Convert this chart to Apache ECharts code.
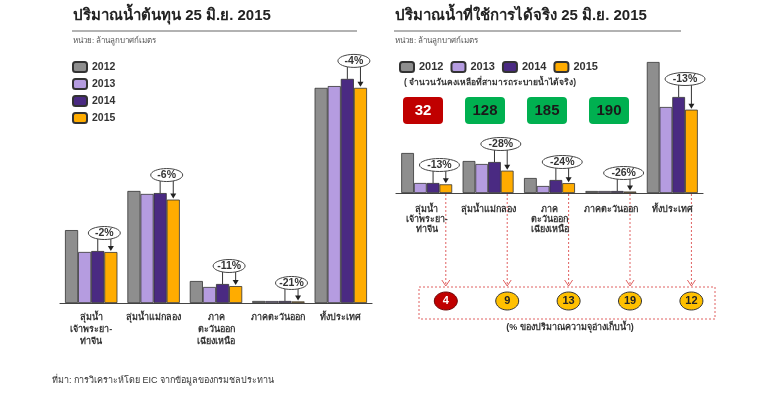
<html>
<head>
    <meta http-equiv="Content-Type" content="text/html; charset=utf-8" />
    <title>ปริมาณน้ำ 25 มิ.ย. 2015</title>
    <style>
        body { margin: 0; background: #fff; }
        #container { width: 768px; height: 399px; }
    </style>
</head>
<body>
    <div id="container"></div>
    <script src="https://cdn.jsdelivr.net/npm/echarts@6/dist/echarts.min.js"></script>
    <script type="text/javascript">
    var categories = ['ลุ่มน้ำ\nเจ้าพระยา-\nท่าจีน', 'ลุ่มน้ำแม่กลอง', 'ภาค\nตะวันออก\nเฉียงเหนือ', 'ภาคตะวันออก', 'ทั้งประเทศ'];
    var years = ['2012', '2013', '2014', '2015'];

    // ปริมาณน้ำต้นทุน (ล้าน ลบ.ม.)
    var stock2012 = [12200, 18750, 3680, 340, 36000];
    var stock2013 = [8540, 18250, 2680, 330, 36300];
    var stock2014 = [8700, 18400, 3180, 340, 37500];
    var stock2015 = [8530, 17300, 2830, 270, 36000];
    var stockChange = ['-2%', '-6%', '-11%', '-21%', '-4%'];

    // ปริมาณน้ำที่ใช้การได้จริง (ล้าน ลบ.ม.)
    var usable2012 = [6000, 4800, 2250, 300, 19650];
    var usable2013 = [1500, 4350, 1050, 300, 12900];
    var usable2014 = [1500, 4650, 1950, 300, 14400];
    var usable2015 = [1300, 3350, 1480, 220, 12500];
    var usableChange = ['-13%', '-28%', '-24%', '-26%', '-13%'];

    var daysLeft = [32, 128, 185, 190];
    var capacityPct = [4, 9, 13, 19, 12];

    var colors = ['#8e8e8e', '#b59ce0', '#4a2a82', '#ffac00'];
    var font = '"Liberation Sans", Tahoma, sans-serif';

    var stock = [stock2012, stock2013, stock2014, stock2015];
    var usable = [usable2012, usable2013, usable2014, usable2015];

    var myChart = echarts.init(document.getElementById('container'));

    var series = [];
    years.forEach(function(y, k) {
        series.push({
            type: 'bar', name: y, xAxisIndex: 0, yAxisIndex: 0,
            data: stock[k], barGap: '0%', barCategoryGap: '16%',
            itemStyle: { color: colors[k], borderColor: '#333', borderWidth: 0.8 },
            animation: false
        });
    });
    years.forEach(function(y, k) {
        series.push({
            type: 'bar', name: y, xAxisIndex: 1, yAxisIndex: 1,
            data: usable[k], barGap: '0%', barCategoryGap: '17%',
            itemStyle: { color: colors[k], borderColor: '#333', borderWidth: 0.8 },
            animation: false
        });
    });

    var catAxis = function(idx, margin, lh) {
        return {
            type: 'category', gridIndex: idx, data: categories,
            axisLine: { lineStyle: { color: '#444', width: 1.2 } },
            axisTick: { show: false },
            axisLabel: { interval: 0, margin: margin, fontSize: 9, fontWeight: 'bold', color: '#333', lineHeight: lh, fontFamily: font }
        };
    };

    myChart.setOption({
        animation: false,
        textStyle: { fontFamily: font },
        grid: [
            { left: 60, right: 396, top: 52, bottom: 96 },
            { left: 396, right: 65, top: 53, bottom: 206 }
        ],
        xAxis: [catAxis(0, 9, 12), catAxis(1, 12, 10)],
        yAxis: [
            { type: 'value', gridIndex: 0, min: 0, max: 42000, show: false },
            { type: 'value', gridIndex: 1, min: 0, max: 21000, show: false }
        ],
        legend: [
            {
                orient: 'vertical', left: 72, top: 61, padding: 0, itemWidth: 14, itemHeight: 10, itemGap: 5,
                data: years, selectedMode: false,
                textStyle: { fontSize: 10.5, fontWeight: 'bold', color: '#333', fontFamily: font }
            },
            {
                orient: 'horizontal', left: 399, top: 61, padding: 0, itemWidth: 14, itemHeight: 10, itemGap: 7,
                data: years, selectedMode: false,
                textStyle: { fontSize: 11, fontWeight: 'bold', color: '#333', fontFamily: font }
            }
        ],
        series: series
    });

    // วาดกรอบคำอธิบายจากตำแหน่งของแท่งจริง
    function barPos(axisIdx, cat, k, value, gapRatio) {
        var c0 = myChart.convertToPixel({ xAxisIndex: axisIdx }, 0);
        var c1 = myChart.convertToPixel({ xAxisIndex: axisIdx }, 1);
        var band = c1 - c0;
        var bw = band * (1 - gapRatio) / 4;
        var cx = myChart.convertToPixel({ xAxisIndex: axisIdx }, cat) + (k - 1.5) * bw;
        var top = myChart.convertToPixel({ yAxisIndex: axisIdx }, value);
        return { x: cx, y: top };
    }

    var graphics = [];

    function callout(axisIdx, cat, data, text, gapRatio, rx) {
        var p14 = barPos(axisIdx, cat, 2, data[2][cat], gapRatio);
        var p15 = barPos(axisIdx, cat, 3, data[3][cat], gapRatio);
        var cy = Math.min(p14.y, p15.y) - 18;
        var ex = (p14.x + p15.x) / 2;
        graphics.push({ type: 'line', shape: { x1: p14.x, y1: cy + 5, x2: p14.x, y2: p14.y }, style: { stroke: '#333', lineWidth: 1 } });
        graphics.push({ type: 'line', shape: { x1: p15.x, y1: cy + 5, x2: p15.x, y2: p15.y - 5 }, style: { stroke: '#333', lineWidth: 1 } });
        graphics.push({ type: 'polygon', shape: { points: [[p15.x - 3, p15.y - 6], [p15.x + 3, p15.y - 6], [p15.x, p15.y - 1]] }, style: { fill: '#222' } });
        graphics.push({ type: 'ellipse', shape: { cx: ex, cy: cy, rx: rx, ry: 6.5 }, style: { fill: '#fff', stroke: '#444', lineWidth: 1 }, z: 10 });
        graphics.push({ type: 'text', x: ex, y: cy, z: 11, style: { text: text, fontSize: 10.5, fontWeight: 'bold', fill: '#333', align: 'center', verticalAlign: 'middle', fontFamily: font } });
    }

    for (var i = 0; i < categories.length; i++) {
        callout(0, i, stock, stockChange[i], 0.16, 16);
        callout(1, i, usable, usableChange[i], 0.17, 20);
    }

    // หัวเรื่อง
    graphics.push({ type: 'text', left: 73, top: 8, style: { text: 'ปริมาณน้ำต้นทุน 25 มิ.ย. 2015', fontSize: 15, fontWeight: 'bold', fill: '#222', fontFamily: font } });
    graphics.push({ type: 'line', shape: { x1: 72, y1: 31, x2: 357, y2: 31 }, style: { stroke: '#999', lineWidth: 1.5 } });
    graphics.push({ type: 'text', left: 73, top: 37, style: { text: 'หน่วย: ล้านลูกบาศก์เมตร', fontSize: 8, fill: '#555', fontFamily: font } });

    graphics.push({ type: 'text', left: 395, top: 8, style: { text: 'ปริมาณน้ำที่ใช้การได้จริง 25 มิ.ย. 2015', fontSize: 15, fontWeight: 'bold', fill: '#222', fontFamily: font } });
    graphics.push({ type: 'line', shape: { x1: 394, y1: 31, x2: 681, y2: 31 }, style: { stroke: '#999', lineWidth: 1.5 } });
    graphics.push({ type: 'text', left: 395, top: 37, style: { text: 'หน่วย: ล้านลูกบาศก์เมตร', fontSize: 8, fill: '#555', fontFamily: font } });

    graphics.push({ type: 'text', left: 404, top: 78, style: { text: '( จำนวนวันคงเหลือที่สามารถระบายน้ำได้จริง)', fontSize: 8.5, fontWeight: 'bold', fill: '#333', fontFamily: font } });

    // จำนวนวันคงเหลือ
    daysLeft.forEach(function(d, k) {
        var bx = 403 + k * 62;
        var red = k === 0;
        graphics.push({ type: 'rect', shape: { x: bx, y: 97, width: 40, height: 27, r: 4 }, style: { fill: red ? '#c00000' : '#00b050' } });
        graphics.push({ type: 'text', x: bx + 20, y: 111, style: { text: String(d), fontSize: 15, fontWeight: 'bold', fill: red ? '#fff' : '#1a1a1a', align: 'center', verticalAlign: 'middle', fontFamily: font } });
    });

    // ลูกศรเส้นประไปยัง % ความจุ
    var boxTop = 287;
    graphics.push({ type: 'rect', shape: { x: 419, y: boxTop, width: 296, height: 32 }, style: { fill: 'none', stroke: '#e06060', lineWidth: 1, lineDash: [2, 2] } });
    capacityPct.forEach(function(v, c) {
        var p = barPos(1, c, 3, 0, 0.17);
        graphics.push({ type: 'line', shape: { x1: p.x, y1: p.y + 1, x2: p.x, y2: boxTop - 1 }, style: { stroke: '#e06060', lineWidth: 1, lineDash: [2, 2] } });
        graphics.push({ type: 'polyline', shape: { points: [[p.x - 4, boxTop - 7], [p.x, boxTop - 1], [p.x + 4, boxTop - 7]] }, style: { stroke: '#e06060', lineWidth: 1, fill: 'none' } });
        var red = c === 0;
        graphics.push({ type: 'ellipse', shape: { cx: p.x, cy: boxTop + 14, rx: 11.5, ry: 9 }, style: { fill: red ? '#c00000' : '#ffc000', stroke: red ? '#6b0000' : '#333', lineWidth: 1 } });
        graphics.push({ type: 'text', x: p.x, y: boxTop + 14, style: { text: String(v), fontSize: 11, fontWeight: 'bold', fill: red ? '#fff' : '#222', align: 'center', verticalAlign: 'middle', fontFamily: font } });
    });
    graphics.push({ type: 'text', x: 570, y: 328, style: { text: '(% ของปริมาณความจุอ่างเก็บน้ำ)', fontSize: 9, fontWeight: 'bold', fill: '#333', align: 'center', verticalAlign: 'middle', fontFamily: font } });

    // ที่มา
    graphics.push({ type: 'text', left: 52, top: 376, style: { text: 'ที่มา: การวิเคราะห์โดย EIC จากข้อมูลของกรมชลประทาน', fontSize: 9, fill: '#333', fontFamily: font } });

    myChart.setOption({ graphic: graphics });
    </script>
</body>
</html>
